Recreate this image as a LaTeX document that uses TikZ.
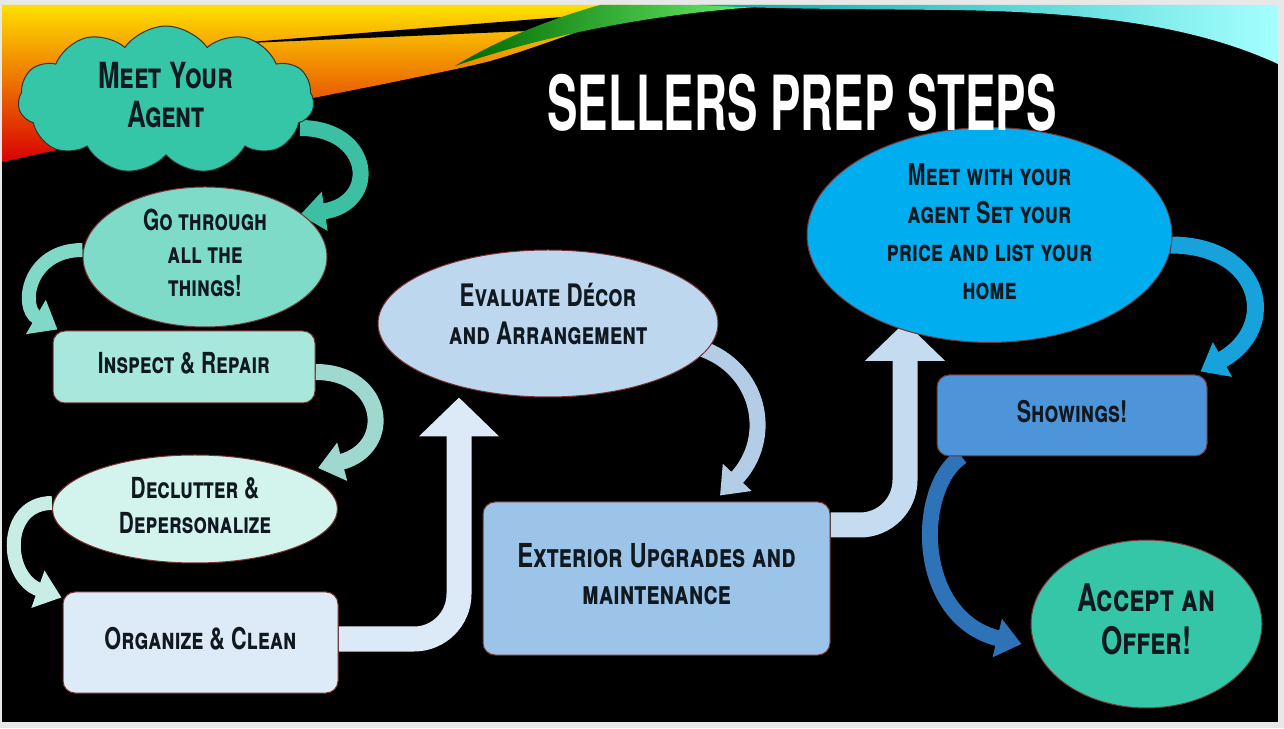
\documentclass[tikz,border=0pt]{standalone}
\usepackage{fontspec}
\setmainfont{TeX Gyre Heros}
\usetikzlibrary{arrows.meta,shapes.symbols,shapes.geometric}
\pgfdeclarelayer{bg}
\pgfdeclarelayer{arr}
\pgfsetlayers{bg,arr,main}
\newcommand\Lbl[2]{\scalebox{#1}[1]{\begin{tabular}{@{}c@{}}#2\end{tabular}}}
\definecolor{cloudc}{HTML}{35C5A7}
\definecolor{goc}{HTML}{7EDBC7}
\definecolor{inspc}{HTML}{A8E7DB}
\definecolor{declc}{HTML}{D2F4EC}
\definecolor{orgc}{HTML}{DDEAF7}
\definecolor{evalc}{HTML}{BDD7EE}
\definecolor{extc}{HTML}{9CC3E8}
\definecolor{meetc}{HTML}{00AEEF}
\definecolor{showc}{HTML}{4D94D8}
\definecolor{txt}{HTML}{101820}
\definecolor{edge}{HTML}{7A2E2E}
\definecolor{aone}{HTML}{3CBFA2}
\definecolor{atwo}{HTML}{80D8C6}
\definecolor{athree}{HTML}{9FD8CE}
\definecolor{afour}{HTML}{C8EDE4}
\definecolor{afive}{HTML}{DCE9F7}
\definecolor{asix}{HTML}{B4CDE6}
\definecolor{aseven}{HTML}{C4DBF0}
\definecolor{aeight}{HTML}{18A2DC}
\definecolor{anine}{HTML}{2E72B8}
\tikzset{
  fs/.style 2 args={font=\bfseries\scshape\fontsize{#1}{#2}\selectfont},
  box/.style={draw=edge, line width=1pt, text=txt, inner sep=0pt},
  rbox/.style={box, rectangle, rounded corners=12},
  ell/.style={box, ellipse},
  carrow/.style={line width=#1, -{Triangle[length=25pt,width=38pt]}},
  barrow/.style={line width=25, rounded corners=45, -{Triangle[length=39pt,width=78pt]}}
}
\begin{document}
\begin{tikzpicture}[x=1pt,y=1pt]
\useasboundingbox (0,0) rectangle (1284,728);
\begin{pgfonlayer}{bg}
  \fill[gray!18] (0,0) rectangle (1284,728);
  \fill[black] (2,6) rectangle (1278,723);
  % warm swoosh
  \shade[top color=yellow!75!orange, middle color=orange!90!red, bottom color=red!85!black]
    (2,723) -- (650,723) -- plot[smooth] coordinates {(650,723) (620,712) (560,690) (490,667) (408,649) (318,631) (160,600) (2,566)} -- cycle;
  \fill[black] (225,684) -- (575,712) -- (575,699) -- cycle;
  % green swoosh
  \shade[left color=green!40!black, right color=green!55!white]
    (455,662) .. controls (560,698) and (680,718) .. (790,723) -- (600,723)
    .. controls (560,712) and (500,690) .. (455,662);
  % cyan swoosh
  \shade[left color=teal!70!cyan, right color=cyan!35!white]
    (700,723) -- (1278,723) -- (1278,664) .. controls (1200,700) and (1100,716) .. (950,718)
    .. controls (850,719) and (760,719) .. (700,723);
\end{pgfonlayer}

\node[fill=cloudc, draw=gray!40!black, line width=1pt, text=txt, cloud, cloud puffs=11, cloud puff arc=110,
      aspect=2.6, minimum width=296, minimum height=108, inner sep=0pt, fs={36}{39}]
  (cloud) at (166,628) {\Lbl{.72}{Meet Your\\Agent}};
\node[ell, fill=goc, minimum width=244, minimum height=120, fs={29}{33}]
  (go) at (205,471) {\Lbl{.72}{Go through\\all the\\things!}};
\node[rbox, fill=inspc, minimum width=262, minimum height=72, fs={29}{33}]
  (insp) at (184,361) {\Lbl{.72}{Inspect \& Repair}};
\node[ell, fill=declc, minimum width=285, minimum height=108, fs={29}{35}]
  (decl) at (195,219) {\Lbl{.72}{Declutter \&\\Depersonalize}};
\node[rbox, fill=orgc, minimum width=275, minimum height=101, fs={30}{36}]
  (org) at (200.5,85.5) {\Lbl{.72}{Organize \& Clean}};
\node[ell, fill=evalc, minimum width=340, minimum height=147, fs={31}{38}]
  (eval) at (548,404.5) {\raisebox{6pt}[\height][\depth]{\Lbl{.72}{Evaluate Décor\\and Arrangement}}};
\node[rbox, fill=extc, minimum width=347, minimum height=153, fs={33}{37}]
  (ext) at (656.5,149.5) {\Lbl{.72}{Exterior Upgrades and\\maintenance}};
\node[ell, fill=meetc, minimum width=365, minimum height=166, fs={30}{38}]
  (meet) at (989.5,493) {\Lbl{.72}{Meet with your\\agent Set your\\price and list your\\home}};
\node[rbox, fill=showc, minimum width=270, minimum height=81, fs={30}{36}]
  (show) at (1072,312.5) {\Lbl{.72}{Showings!}};
\node[ell, fill=cloudc, minimum width=231, minimum height=168, fs={38}{43}]
  (accept) at (1146.5,104) {\Lbl{.72}{Accept an\\Offer!}};
\node[text=white, inner sep=0pt, font=\bfseries\fontsize{76}{76}\selectfont]
  (title) at (802,625) {\scalebox{0.6}[1]{SELLERS PREP STEPS}};

\begin{pgfonlayer}{arr}
  \draw[carrow=16, aone] ([shift={(-14,-28)}]cloud.east) .. controls +(72,0) and +(80,12) .. ([shift={(95,42)}]go.center);
  \draw[carrow=14, atwo] ([yshift=7]go.west) .. controls +(-55,0) and +(-38,22) .. ([shift={(5,1)}]insp.north west);
  \draw[carrow=16, athree] ([yshift=-5]insp.east) .. controls +(70,0) and +(77,20) .. ([shift={(123,41)}]decl.center);
  \draw[carrow=14, afour] ([yshift=6]decl.west) .. controls +(-50,0) and +(-57,20) .. ([shift={(-1,-6)}]org.north west);
  \draw[barrow, afive] ([yshift=3.5]org.east) -- (459,89) -- ([xshift=-89]eval.south);
  \draw[carrow=16, asix] ([shift={(152,-24.5)}]eval.center) .. controls +(60,-20) and +(55,58) .. ([shift={(63.5,6)}]ext.north);
  \draw[barrow, aseven] ([yshift=53.5]ext.east) -- (905,203) -- ([shift={(-84.5,-87)}]meet.center);
  \draw[carrow=17, aeight] ([shift={(-2,-10)}]meet.east) .. controls +(92,0) and +(80,44) .. ([shift={(-7,3)}]show.north east);
  \draw[carrow=16, anine] ([xshift=25]show.south west) .. controls +(-47,-32) and +(-107,26) .. ([shift={(-9,-20)}]accept.west);
\end{pgfonlayer}
\end{tikzpicture}
\end{document}
